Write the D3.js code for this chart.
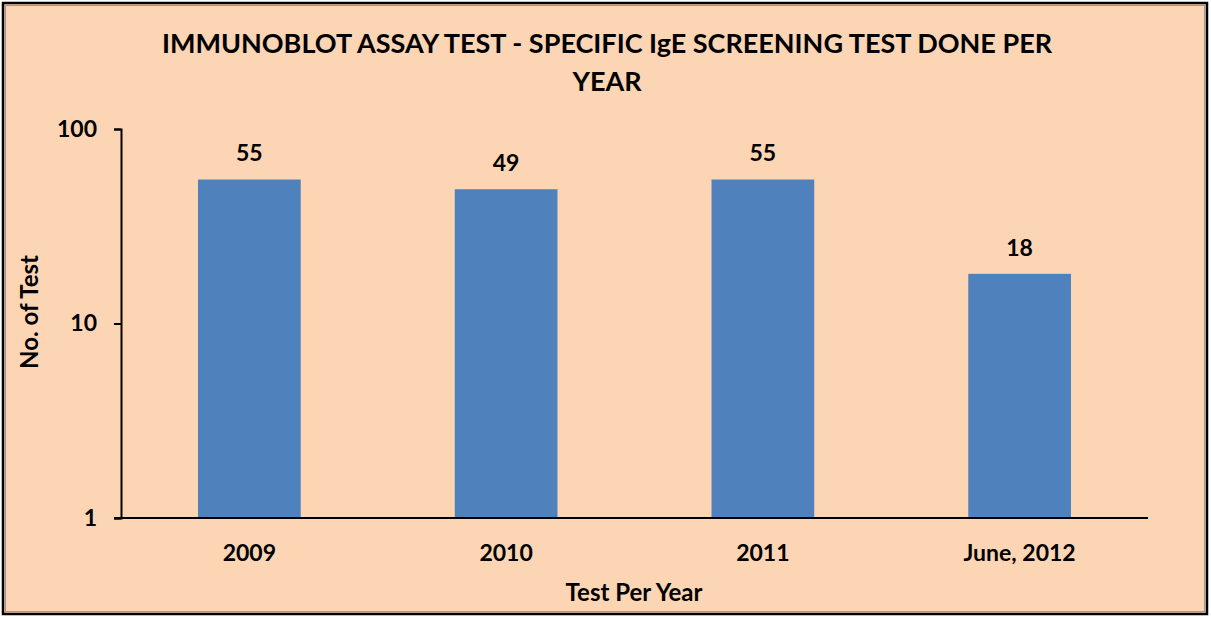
<!DOCTYPE html>
<html>
<head>
<meta charset="utf-8">
<script src="https://cdn.jsdelivr.net/npm/d3@7"></script>
<style>
  body { margin: 0; background: #fff; }
  text { font-family: Lato, "Open Sans", sans-serif; font-weight: bold; fill: #000; }
</style>
</head>
<body>
<div id="container"></div>
<script>
// chart data
const years = ["2009", "2010", "2011", "June, 2012"];
const tests = [55, 49, 55, 18];
const yTicks = [1, 10, 100];
const titleLines = ["IMMUNOBLOT ASSAY TEST - SPECIFIC IgE SCREENING TEST DONE PER", "YEAR"];

let w = 1211;
let h = 619;

let viz = d3.select("#container")
  .append("svg")
    .attr("width", w)
    .attr("height", h);

// chart area background + border
viz.append("rect")
  .attr("x", 3).attr("y", 3)
  .attr("width", 1204).attr("height", 611)
  .attr("fill", "#FCD5B5")
  .attr("stroke", "#000")
  .attr("stroke-width", 2.5);
viz.append("rect")
  .attr("x", 5.5).attr("y", 5.5)
  .attr("width", 1199).attr("height", 606)
  .attr("fill", "none")
  .attr("stroke", "#999")
  .attr("stroke-width", 1);

const plotLeft = 121, plotRight = 1148, plotTop = 129, plotBottom = 518;

const x = d3.scaleBand()
  .domain(years)
  .range([plotLeft, plotRight])
  .paddingInner(0.6)
  .paddingOuter(0.3);

const y = d3.scaleLog()
  .domain([1, 100])
  .range([plotBottom, plotTop]);

// bars
viz.selectAll("rect.bar")
  .data(years)
  .enter()
  .append("rect")
    .attr("class", "bar")
    .attr("x", d => x(d))
    .attr("y", (d, i) => y(tests[i]))
    .attr("width", x.bandwidth())
    .attr("height", (d, i) => y(1) - y(tests[i]))
    .attr("fill", "#4F81BD");

// value labels
viz.selectAll("text.val")
  .data(years)
  .enter()
  .append("text")
    .attr("class", "val")
    .attr("x", d => x(d) + x.bandwidth() / 2)
    .attr("y", (d, i) => y(tests[i]) - 18)
    .attr("text-anchor", "middle")
    .style("font-size", "23px")
    .text((d, i) => tests[i]);

// y axis
const yAxis = viz.append("g")
  .attr("transform", `translate(${plotLeft},0)`)
  .call(d3.axisLeft(y).tickValues(yTicks).tickFormat(d3.format("d")).tickSize(7).tickPadding(17));
yAxis.select(".domain").attr("stroke", "#000").attr("stroke-width", 2);
yAxis.selectAll(".tick line").attr("stroke", "#000").attr("stroke-width", 2);
yAxis.selectAll(".tick text").style("font-size", "23px").style("font-family", "Lato, sans-serif");

// x axis
const xAxis = viz.append("g")
  .attr("transform", `translate(0,${plotBottom})`)
  .call(d3.axisBottom(x).tickSize(0).tickPadding(27));
xAxis.select(".domain").attr("stroke", "#000").attr("stroke-width", 2)
  .attr("d", `M${plotLeft - 7},0H${plotRight}`);
xAxis.selectAll(".tick text").style("font-size", "23px").style("font-family", "Lato, sans-serif");

// titles
viz.append("text")
  .attr("x", 607)
  .attr("y", 53)
  .attr("text-anchor", "middle")
  .style("font-size", "27px")
  .selectAll("tspan")
  .data(titleLines)
  .enter()
  .append("tspan")
    .attr("x", 607)
    .attr("dy", (d, i) => i === 0 ? 0 : 38)
    .text(d => d);

viz.append("text")
  .attr("x", 634)
  .attr("y", 601)
  .attr("text-anchor", "middle")
  .style("font-size", "24px")
  .text("Test Per Year");

viz.append("text")
  .attr("transform", "translate(38,312) rotate(-90)")
  .attr("text-anchor", "middle")
  .style("font-size", "24px")
  .text("No. of Test");
</script>
</body>
</html>
